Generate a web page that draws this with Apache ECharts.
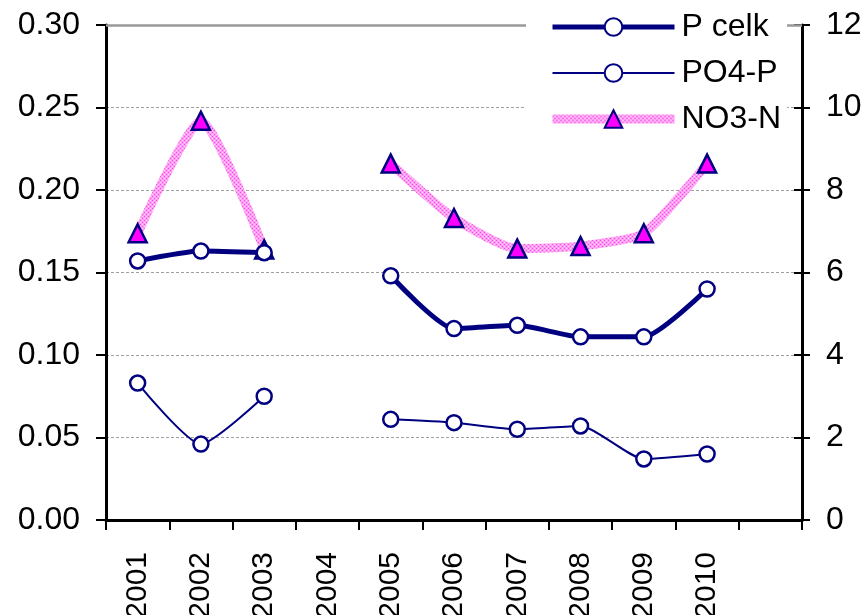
<!DOCTYPE html>
<html>
<head>
<meta charset="utf-8">
<script src="https://cdn.jsdelivr.net/npm/echarts@6/dist/echarts.min.js"></script>
<style>
  html, body { margin: 0; padding: 0; background: #fff; }
  #chart { width: 864px; height: 615px; }
</style>
</head>
<body>
<div id="chart"></div>
<script>
// Years on the category axis (the last slot is left empty)
const years = ['2001', '2002', '2003', '2004', '2005', '2006', '2007', '2008', '2009', '2010', ''];

// Total phosphorus, mg/l (left axis)
const pCelk = [0.157, 0.163, 0.162, null, 0.148, 0.116, 0.118, 0.111, 0.111, 0.140, null];
// Orthophosphate phosphorus, mg/l (left axis)
const po4P = [0.083, 0.046, 0.075, null, 0.061, 0.059, 0.055, 0.057, 0.037, 0.040, null];
// Nitrate nitrogen, mg/l (right axis)
const no3N = [6.95, 9.68, 6.56, null, 8.64, 7.32, 6.58, 6.64, 6.95, 8.64, null];

const leftTicks = { min: 0, max: 0.30, interval: 0.05 };
const rightTicks = { min: 0, max: 12, interval: 2 };

const FONT = '"Liberation Sans", Arial, sans-serif';
const FONT_SIZE = 32;
const NAVY = '#000080';

// Speckled pink fill used for the nitrate line
function pinkPattern() {
  const c = document.createElement('canvas');
  c.width = 4; c.height = 4;
  const g = c.getContext('2d');
  g.fillStyle = '#ff9cf4';
  g.fillRect(0, 0, 4, 4);
  g.fillStyle = '#ee50e4';
  g.fillRect(0, 0, 1, 1);
  g.fillRect(2, 2, 1, 1);
  g.fillStyle = '#ffd8fa';
  g.fillRect(2, 0, 1, 1);
  g.fillRect(0, 2, 1, 1);
  return { image: c, repeat: 'repeat' };
}
const PINK = pinkPattern();

const chart = echarts.init(document.getElementById('chart'), null, { renderer: 'canvas' });

chart.setOption({
  animation: false,
  backgroundColor: '#fff',
  textStyle: { fontFamily: FONT },
  grid: {
    left: 106, right: 62, top: 25, bottom: 95,
    containLabel: false,
    outerBoundsMode: 'none'
  },
  legend: {
    orient: 'vertical',
    left: 526,
    top: 7,
    padding: [4, 6, 8, 22],
    itemGap: 14,
    itemWidth: 122,
    itemHeight: 22,
    backgroundColor: '#fff',
    z: 10,
    textStyle: { fontFamily: FONT, fontSize: FONT_SIZE, color: '#000', padding: [0, 0, 0, 2] },
    data: [
      { name: 'P celk', lineStyle: { width: 5, color: NAVY } },
      { name: 'PO4-P', lineStyle: { width: 2, color: NAVY } },
      { name: 'NO3-N', lineStyle: { width: 9, color: PINK } }
    ]
  },
  xAxis: {
    type: 'category',
    data: years,
    boundaryGap: true,
    axisLine: { lineStyle: { color: '#000', width: 3 } },
    axisTick: { show: true, length: 10, lineStyle: { color: '#000', width: 2 } },
    axisLabel: { rotate: 90, margin: 32, fontSize: 30, color: '#000', fontFamily: FONT },
    splitLine: { show: false }
  },
  yAxis: [
    {
      type: 'value',
      position: 'left',
      min: leftTicks.min, max: leftTicks.max, interval: leftTicks.interval,
      axisLine: { show: true, lineStyle: { color: '#000', width: 3 } },
      axisTick: { show: true, length: 10, lineStyle: { color: '#000', width: 2 } },
      axisLabel: {
        margin: 26, fontSize: FONT_SIZE, color: '#000', fontFamily: FONT,
        formatter: v => v.toFixed(2)
      },
      splitLine: { show: true, lineStyle: { color: '#a0a0a0', width: 1, type: [3, 2] } }
    },
    {
      type: 'value',
      position: 'right',
      min: rightTicks.min, max: rightTicks.max, interval: rightTicks.interval,
      axisLine: { show: true, lineStyle: { color: '#000', width: 3 } },
      axisTick: { show: true, length: 8, lineStyle: { color: '#000', width: 2 } },
      axisLabel: { margin: 24, fontSize: FONT_SIZE, color: '#000', fontFamily: FONT },
      splitLine: { show: false }
    },
    {
      // inner half of the crossing ticks on the right axis
      type: 'value',
      position: 'right',
      min: rightTicks.min, max: rightTicks.max, interval: rightTicks.interval,
      axisLine: { show: false },
      axisTick: { show: true, inside: true, length: 8, lineStyle: { color: '#000', width: 2 } },
      axisLabel: { show: false },
      splitLine: { show: false }
    }
  ],
  series: [
    {
      name: 'NO3-N',
      type: 'line',
      yAxisIndex: 1,
      data: no3N,
      connectNulls: false,
      smooth: 0.2,
      z: 2,
      lineStyle: { color: PINK, width: 9 },
      symbol: 'triangle',
      symbolSize: 18,
      itemStyle: { color: '#ff00ff', borderColor: NAVY, borderWidth: 2.5 }
    },
    {
      name: 'P celk',
      type: 'line',
      yAxisIndex: 0,
      data: pCelk,
      connectNulls: false,
      smooth: 0.2,
      z: 3,
      lineStyle: { color: NAVY, width: 5 },
      symbol: 'circle',
      symbolSize: 15,
      itemStyle: { color: '#fff', borderColor: NAVY, borderWidth: 2.5 },
      markLine: {
        silent: true,
        symbol: 'none',
        label: { show: false },
        lineStyle: { color: '#999', width: 2.5, type: 'solid' },
        data: [{ yAxis: leftTicks.max }]
      }
    },
    {
      name: 'PO4-P',
      type: 'line',
      yAxisIndex: 0,
      data: po4P,
      connectNulls: false,
      smooth: 0.2,
      z: 3,
      lineStyle: { color: NAVY, width: 2 },
      symbol: 'circle',
      symbolSize: 15,
      itemStyle: { color: '#fff', borderColor: NAVY, borderWidth: 2.5 }
    }
  ]
});
</script>
</body>
</html>
